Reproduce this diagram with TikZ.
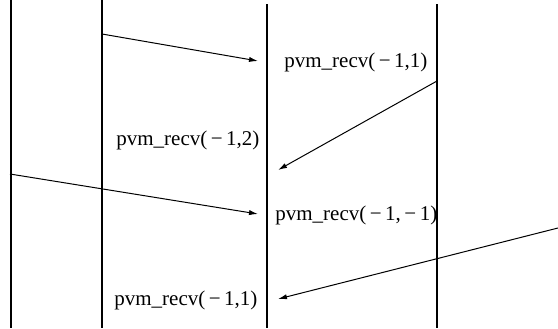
\documentclass[tikz,border=0pt]{standalone}
\usepackage{fontspec}
\setmainfont{Liberation Serif}
\usetikzlibrary{positioning,arrows.meta}

\begin{document}
\begin{tikzpicture}[x=0.5pt, y=-0.5pt, >={Latex[length=4.5pt,width=2.6pt]},
  every node/.style={font=\fontsize{10.5}{12}\selectfont},
  lane/.style={line width=0.6pt},
  msg/.style={->, line width=0.5pt},
  lbl/.style={inner sep=0pt, anchor=west}]
  \useasboundingbox (0,0) rectangle (558,328);
  % the four process time lines, top to bottom
  \coordinate (p0t) at (11,0);   \coordinate (p0b) at (11,328);
  \coordinate (p1t) at (102,0);  \coordinate (p1b) at (102,328);
  \coordinate (p2t) at (267,4);  \coordinate (p2b) at (267,328);
  \coordinate (p3t) at (437,4);  \coordinate (p3b) at (437,328);
  \draw[lane] (p0t) -- (p0b);
  \draw[lane] (p1t) -- (p1b);
  \draw[lane] (p2t) -- (p2b);
  \draw[lane] (p3t) -- (p3b);
  % receive calls on process 2 and process 1
  \node[lbl] (rc1) at (284,62)  {pvm\_recv(\,−\,1,1)};
  \node[lbl] (rc2) at (116,140) {pvm\_recv(\,−\,1,2)};
  \node[lbl] (rc3) at (275,215) {pvm\_recv(\,−\,1,\,−\,1)};
  \node[lbl] (rc4) at (114,300) {pvm\_recv(\,−\,1,1)};
  % messages between the time lines
  \coordinate (s1) at (102,34);  \coordinate (r1) at (258,61);
  \coordinate (s2) at (437,81);  \coordinate (r2) at (278,170);
  \coordinate (s3) at (10,174);  \coordinate (r3) at (258,214);
  \coordinate (s4) at (558,228); \coordinate (r4) at (278,299);
  \draw[msg] (s1) -- (r1);
  \draw[msg] (s2) -- (r2);
  \draw[msg] (s3) -- (r3);
  \draw[msg] (s4) -- (r4);
\end{tikzpicture}
\end{document}
